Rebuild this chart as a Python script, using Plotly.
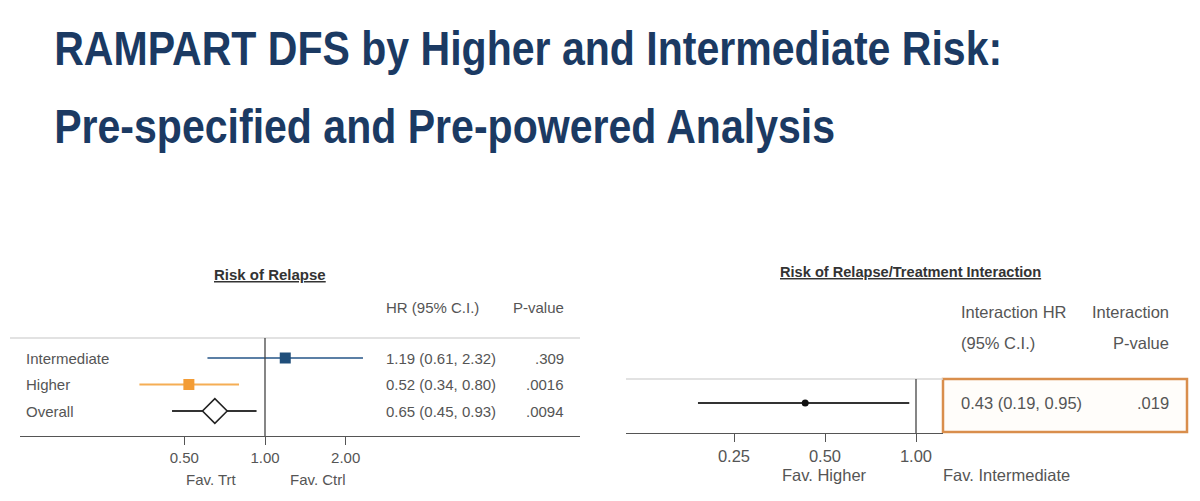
import math
import plotly.graph_objects as go

W, H = 1200, 501

# ---------------- data ----------------
title_lines = ["RAMPART DFS by Higher and Intermediate Risk:",
               "Pre-specified and Pre-powered Analysis"]

left_title = "Risk of Relapse"
left_headers = ["HR (95% C.I.)", "P-value"]
groups = ["Intermediate", "Higher", "Overall"]
hr = [1.19, 0.52, 0.65]
lo = [0.61, 0.34, 0.45]
hi = [2.32, 0.80, 0.93]
hr_text = ["1.19 (0.61, 2.32)", "0.52 (0.34, 0.80)", "0.65 (0.45, 0.93)"]
p_text = [".309", ".0016", ".0094"]
left_ticks = [0.5, 1.0, 2.0]
left_ticklabels = ["0.50", "1.00", "2.00"]
left_fav = ["Fav. Trt", "Fav. Ctrl"]

right_title = "Risk of Relapse/Treatment Interaction"
right_headers = [["Interaction HR", "(95% C.I.)"], ["Interaction", "P-value"]]
int_hr = [0.43]
int_lo = [0.19]
int_hi = [0.95]
int_text = ["0.43 (0.19, 0.95)"]
int_p = [".019"]
right_ticks = [0.25, 0.5, 1.0]
right_ticklabels = ["0.25", "0.50", "1.00"]
right_fav = ["Fav. Higher", "Fav. Intermediate"]

# ---------------- styling ----------------
NAVY = "#1B3A63"
GREY_TXT = "#555555"
FONT = "Liberation Sans, Arial, sans-serif"
BOLDFONT = "Liberation Sans, Arial, sans-serif"
row_line_colors = ["#5B7FA5", "#F5AE55", "#333333"]
row_mark_colors = ["#1F4E7A", "#F39C35", "#FFFFFF"]
row_symbols = ["square", "square", "diamond"]
row_sizes = [11, 11, 19]
TITLE_SQUEEZE = 0.838   # emulate a condensed (narrow) bold face
LFS = 15      # left panel text size
RFS = 16.5    # right panel text size


def px(x):
    return x / W


def py(y):
    return 1 - y / H


def log_range(px0, px1, px_one, px_per_doubling):
    a = (px0 - px_one) / px_per_doubling * math.log10(2)
    b = (px1 - px_one) / px_per_doubling * math.log10(2)
    return [a, b]


fig = go.Figure()

# ---- left forest plot ----
L_X0, L_X1, L_ONE, L_DBL = 20, 580, 265, 80.7
L_TOP, L_BOT = 338, 436
L_ROW0, L_STEP = 358, 26.5
yl_range = [(L_BOT - L_ROW0) / L_STEP, (L_TOP - L_ROW0) / L_STEP]

for i in range(len(groups)):
    fig.add_trace(go.Scatter(x=[lo[i], hi[i]], y=[i, i], mode="lines",
                             line=dict(color=row_line_colors[i], width=1.8),
                             xaxis="x", yaxis="y", showlegend=False, hoverinfo="skip"))
    fig.add_trace(go.Scatter(x=[hr[i]], y=[i], mode="markers",
                             marker=dict(symbol=row_symbols[i], size=row_sizes[i],
                                         color=row_mark_colors[i],
                                         line=dict(color="#222222" if i == 2 else row_mark_colors[i],
                                                   width=1.6 if i == 2 else 0)),
                             xaxis="x", yaxis="y", showlegend=False, name=groups[i]))

# ---- right forest plot ----
R_X0, R_X1, R_ONE, R_DBL = 626, 943, 916, 91
R_TOP, R_BOT, R_ROW = 379, 433, 403
R_UNIT = 24
yr_range = [(R_BOT - R_ROW) / R_UNIT, (R_TOP - R_ROW) / R_UNIT]

for i in range(len(int_hr)):
    fig.add_trace(go.Scatter(x=[int_lo[i], int_hi[i]], y=[i, i], mode="lines",
                             line=dict(color="#333333", width=1.8),
                             xaxis="x2", yaxis="y2", showlegend=False, hoverinfo="skip"))
    fig.add_trace(go.Scatter(x=[int_hr[i]], y=[i], mode="markers",
                             marker=dict(symbol="circle", size=7, color="#111111"),
                             xaxis="x2", yaxis="y2", showlegend=False))

axis_common = dict(type="log", showgrid=False, zeroline=False, showline=True,
                   linecolor="#555555", linewidth=1.3, ticks="outside", ticklen=8,
                   tickcolor="#555555", tickwidth=1.3, fixedrange=True)

fig.update_layout(
    width=W, height=H, margin=dict(l=0, r=0, t=0, b=0),
    paper_bgcolor="white", plot_bgcolor="rgba(0,0,0,0)",
    xaxis=dict(domain=[px(L_X0), px(L_X1)], range=log_range(L_X0, L_X1, L_ONE, L_DBL),
               tickvals=left_ticks, ticktext=left_ticklabels, anchor="y",
               tickfont=dict(family=FONT, size=LFS, color=GREY_TXT), **axis_common),
    yaxis=dict(domain=[py(L_BOT), py(L_TOP)], range=yl_range, visible=False, fixedrange=True),
    xaxis2=dict(domain=[px(R_X0), px(R_X1)], range=log_range(R_X0, R_X1, R_ONE, R_DBL),
                tickvals=right_ticks, ticktext=right_ticklabels, anchor="y2",
                tickfont=dict(family=FONT, size=RFS, color=GREY_TXT), **axis_common),
    yaxis2=dict(domain=[py(R_BOT), py(R_TOP)], range=yr_range, visible=False, fixedrange=True),
)

shapes = []
shapes.append(dict(type="line", xref="paper", yref="paper", x0=px(10), x1=px(580),
                   y0=py(L_TOP), y1=py(L_TOP), line=dict(color="#D8D8D8", width=1.3)))
shapes.append(dict(type="line", xref="paper", yref="paper", x0=px(R_X0), x1=px(R_X1),
                   y0=py(R_TOP), y1=py(R_TOP), line=dict(color="#D8D8D8", width=1.3)))
shapes.append(dict(type="line", xref="x", yref="paper", x0=1, x1=1,
                   y0=py(L_BOT), y1=py(L_TOP), line=dict(color="#444444", width=1.3)))
shapes.append(dict(type="line", xref="x2", yref="paper", x0=1, x1=1,
                   y0=py(R_BOT), y1=py(R_TOP), line=dict(color="#444444", width=1.3)))
shapes.append(dict(type="rect", xref="paper", yref="paper", x0=px(943), x1=px(1187),
                   y0=py(432), y1=py(379), line=dict(color="#D98E4C", width=2.5),
                   fillcolor="#FFFDFA", layer="below"))
fig.update_layout(shapes=shapes)

ann = []


def text(x, y, s, size=LFS, color=GREY_TXT, xanchor="left", family=FONT, bold=False):
    if bold:
        s = "<b>" + s + "</b>"
    ann.append(dict(x=px(x), y=py(y), xref="paper", yref="paper", text=s, showarrow=False,
                    xanchor=xanchor, yanchor="middle",
                    font=dict(family=family, size=size, color=color)))


# main title
text(52, 48, title_lines[0], size=49, color=NAVY, family=BOLDFONT, bold=True)
text(52, 126, title_lines[1], size=49, color=NAVY, family=BOLDFONT, bold=True)

# left panel
text(270, 274, "<u>" + left_title + "</u>", size=15, color="#333333", xanchor="center",
     family=BOLDFONT, bold=True)
text(384, 307, left_headers[0])
text(566, 307, left_headers[1], xanchor="right")
for i, g in enumerate(groups):
    yy = L_ROW0 + i * L_STEP
    text(24, yy, g)
    text(384, yy, hr_text[i])
    text(566, yy, p_text[i], xanchor="right")
text(211, 479, left_fav[0], xanchor="center")
text(318, 479, left_fav[1], xanchor="center")

# right panel
text(910, 272, "<u>" + right_title + "</u>", size=14.6, color="#333333", xanchor="center",
     family=BOLDFONT, bold=True)
text(959, 312, right_headers[0][0], size=RFS)
text(959, 343, right_headers[0][1], size=RFS)
text(1171, 312, right_headers[1][0], size=RFS, xanchor="right")
text(1171, 343, right_headers[1][1], size=RFS, xanchor="right")
text(959, R_ROW, int_text[0], size=RFS)
text(1171, R_ROW, int_p[0], size=RFS, xanchor="right")
text(824, 475, right_fav[0], size=RFS, xanchor="center")
text(1007, 475, right_fav[1], size=RFS, xanchor="center")

fig.update_layout(annotations=ann)

# horizontally condense the two headline lines (no narrow bold face is installed)
post_js = """
var starts = %s;
document.querySelectorAll('text.annotation-text').forEach(function(el){
  var t = el.textContent || '';
  for (var k = 0; k < starts.length; k++) {
    if (t.indexOf(starts[k]) === 0) {
      var b = el.getBBox();
      el.setAttribute('transform', 'translate(' + b.x + ',0) scale(%f,1) translate(' + (-b.x) + ',0)');
    }
  }
});
""" % ('["' + title_lines[0][:12] + '","' + title_lines[1][:12] + '"]', TITLE_SQUEEZE)

fig.write_html("out.html", post_script=post_js)
